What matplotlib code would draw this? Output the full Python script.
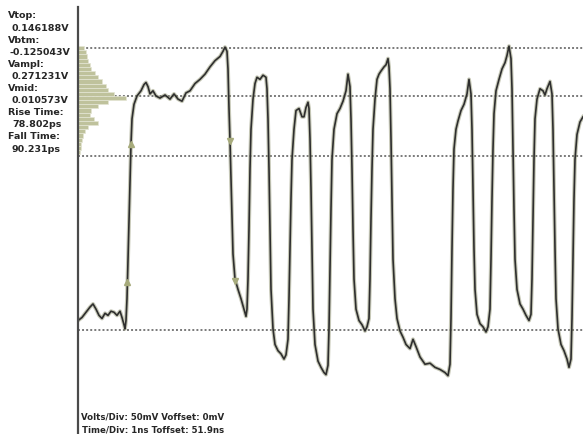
import numpy as np
import matplotlib.pyplot as plt

# captured waveform: time (ns) and voltage (mV)
time_ns = [
    0.00, 0.08, 0.16, 0.24, 0.30, 0.36, 0.42, 0.48, 0.54, 0.60, 0.66, 0.72, 0.78, 0.84, 0.88,
    0.92, 0.94, 0.96, 0.98, 1.00, 1.02, 1.04, 1.06, 1.08, 1.12, 1.18, 1.26, 1.32, 1.36, 1.40,
    1.44, 1.50, 1.56, 1.64, 1.74, 1.84, 1.92, 2.00, 2.08, 2.16, 2.24, 2.34, 2.44, 2.54, 2.64,
    2.74, 2.84, 2.90, 2.94, 2.98, 3.00, 3.02, 3.04, 3.06, 3.08, 3.10, 3.14, 3.20, 3.26, 3.32,
    3.36, 3.38, 3.40, 3.42, 3.44, 3.46, 3.50, 3.54, 3.58, 3.64, 3.70, 3.76, 3.78, 3.80, 3.82,
    3.84, 3.86, 3.90, 3.94, 4.00, 4.06, 4.12, 4.16, 4.20, 4.22, 4.24, 4.26, 4.28, 4.32, 4.36,
    4.42, 4.48, 4.52, 4.56, 4.60, 4.62, 4.64, 4.66, 4.68, 4.70, 4.74, 4.80, 4.86, 4.92, 4.96,
    5.00, 5.02, 5.04, 5.06, 5.08, 5.12, 5.18, 5.24, 5.30, 5.36, 5.40, 5.44, 5.46, 5.48, 5.50,
    5.52, 5.56, 5.62, 5.68, 5.74, 5.78, 5.82, 5.84, 5.86, 5.88, 5.90, 5.94, 5.98, 6.02, 6.06,
    6.12, 6.16, 6.20, 6.22, 6.24, 6.26, 6.28, 6.30, 6.34, 6.38, 6.44, 6.50, 6.56, 6.64, 6.70,
    6.76, 6.84, 6.94, 7.04, 7.14, 7.24, 7.34, 7.40, 7.44, 7.46, 7.48, 7.50, 7.52, 7.56, 7.60,
    7.66, 7.72, 7.78, 7.82, 7.86, 7.88, 7.90, 7.92, 7.94, 7.98, 8.04, 8.10, 8.16, 8.20, 8.24,
    8.26, 8.28, 8.30, 8.32, 8.36, 8.42, 8.48, 8.54, 8.58, 8.62, 8.66, 8.68, 8.70, 8.72, 8.74,
    8.78, 8.84, 8.90, 8.96, 9.02, 9.06, 9.08, 9.10, 9.12, 9.14, 9.18, 9.24, 9.30, 9.34, 9.38,
    9.44, 9.48, 9.50, 9.52, 9.54, 9.56, 9.60, 9.66, 9.72, 9.78, 9.82, 9.86, 9.88, 9.90, 9.92,
    9.94, 9.98, 10.04, 10.10,
]
volt_mv = [
    -116, -113, -108, -103, -100, -105, -111, -114, -109, -111, -107, -108, -111, -107, -113,
    -120, -124, -116, -95, -57, -18, 20, 54, 78, 92, 100, 105, 111, 113, 109,
    102, 105, 100, 98, 101, 97, 102, 97, 95, 103, 105, 112, 116, 121, 128,
    134, 138, 143, 147, 143, 126, 88, 57, 20, -18, -52, -76, -86, -95, -105,
    -112, -105, -76, -28, 30, 68, 97, 112, 118, 116, 120, 118, 107, 78, 30,
    -28, -86, -124, -139, -145, -148, -153, -149, -134, -95, -47, 1, 39, 68, 86,
    88, 80, 80, 89, 94, 88, 59, 11, -47, -105, -139, -155, -161, -166, -168,
    -159, -124, -66, -9, 39, 68, 83, 88, 95, 105, 121, 109, 78, 30, -28,
    -76, -105, -116, -120, -126, -122, -114, -76, -18, 30, 68, 97, 116, 121, 124,
    128, 130, 136, 128, 107, 59, 1, -57, -95, -114, -126, -132, -139, -143, -134,
    -141, -151, -158, -157, -161, -163, -166, -169, -158, -114, -47, 11, 49, 68, 76,
    86, 92, 102, 116, 102, 68, 11, -47, -86, -110, -119, -122, -127, -122, -105,
    -57, 1, 49, 83, 105, 116, 126, 132, 139, 148, 136, 107, 49, -9, -57,
    -86, -100, -105, -111, -116, -110, -76, -18, 39, 78, 97, 107, 105, 101, 107,
    114, 102, 68, 11, -47, -95, -124, -139, -145, -153, -161, -153, -114, -57, 1,
    39, 63, 75, 80,
]

# vertical histogram of the sampled voltages (mV bins, hit counts)
hist_mv = [146, 142, 138, 134, 130, 126, 122, 118, 114, 110, 106, 102, 98,
           94, 90, 86, 82, 78, 74, 70, 66, 62, 58, 54, 50, 46]
hist_counts = [6, 8, 9, 10, 12, 13, 17, 20, 24, 28, 30, 36, 48,
               30, 20, 13, 12, 16, 20, 10, 7, 5, 4, 3, 3, 2]

# cursor levels (mV)
levels_mv = [146.188, 100.0, 42.3, -125.043]

# rise / fall time cursor crossings (mV)
rise_marks_mv = [54, -79]
fall_marks_mv = [57, -78]

readout = [
    ("Vtop:", False), ("0.146188V", True),
    ("Vbtm:", False), ("-0.125043V", True),
    ("Vampl:", False), ("0.271231V", True),
    ("Vmid:", False), ("0.010573V", True),
    ("Rise Time:", False), ("78.802ps", True),
    ("Fall Time:", False), ("90.231ps", True),
]
footer = ["Volts/Div: 50mV Voffset: 0mV", "Time/Div: 1ns Toffset: 51.9ns"]

W, H = 583, 435
fig = plt.figure(figsize=(W / 100, H / 100), dpi=100)
fig.patch.set_facecolor("white")
ax = fig.add_axes([78 / W, 0, 505 / W, 1])
ax.set_xlim(0, 10.1)
ax.set_ylim(-225.1, 193.3)
ax.axis("off")

for lv in levels_mv:
    ax.axhline(lv, color="#7a7a7a", lw=1.4, linestyle=(0, (1, 1.1)), zorder=1)

# histogram bars grow from the left edge; 0.02 ns per count
ax.barh(hist_mv, np.array(hist_counts) * 0.02, height=4, left=0,
        color="#bfc29c", edgecolor="#e4e5d4", linewidth=0.5, zorder=2)

t = np.array(time_ns)
v = np.array(volt_mv)
ax.plot(t, v, color="#8f9270", lw=2.8, alpha=0.5, zorder=3,
        solid_joinstyle="round")
ax.plot(t, v, color="#2e2e2e", lw=1.2, zorder=4, solid_joinstyle="round")

# cursor markers on the first rising and falling edges
rise = (t >= 0.96) & (t <= 1.08)
fall = (t >= 3.00) & (t <= 3.14)
rise_t = np.interp(rise_marks_mv, v[rise], t[rise])
fall_t = np.interp(fall_marks_mv, v[fall][::-1], t[fall][::-1])
ax.plot(rise_t, rise_marks_mv, "^", color="#a7ab7c", ms=5, zorder=5)
ax.plot(fall_t, fall_marks_mv, "v", color="#a7ab7c", ms=5, zorder=5)

# left frame line
ax.plot([0, 0], [0, 1 - 8 / H], transform=ax.transAxes, color="#4a4a4a",
        lw=1.6, clip_on=False, zorder=6)

y = 16
for text, indent in readout:
    x = 8
    if indent:
        x = 10 if text.startswith("-") else 12
    fig.text(x / W, 1 - y / H, text, fontsize=6.8,
             fontweight="bold", color="#262626", va="center", ha="left")
    y += 12.1

for i, text in enumerate(footer):
    fig.text((81 if i == 0 else 82) / W, 1 - (417 + 13 * i) / H, text,
             fontsize=6.2, fontweight="bold", color="#262626",
             va="center", ha="left")

fig.savefig("out.png", dpi=100)
